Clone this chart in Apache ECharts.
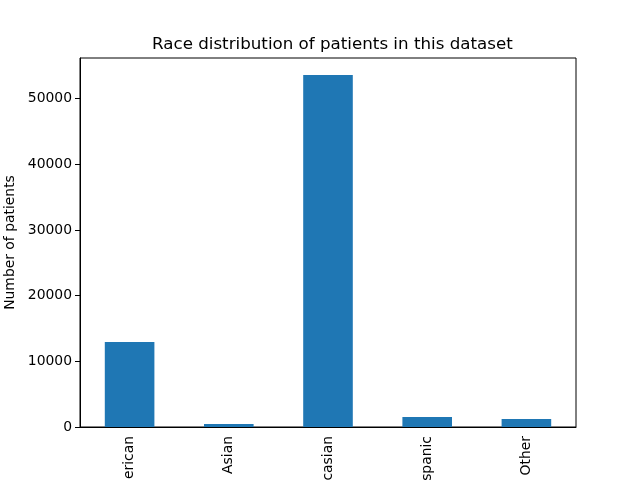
<!DOCTYPE html>
<html>
<head>
<meta charset="utf-8">
<script src="https://cdn.jsdelivr.net/npm/echarts@6/dist/echarts.min.js"></script>
<style>
  html, body, #main { width: 640px; height: 480px; margin: 0; background: #fff; }
</style>
</head>
<body>
<div id="main"></div>
<script>
// race categories and patient counts
var races = ['AfricanAmerican', 'Asian', 'Caucasian', 'Hispanic', 'Other'];
var patients = [12950, 460, 53600, 1520, 1220];
var yTicks = [0, 10000, 20000, 30000, 40000, 50000];

var font = 'DejaVu Sans';
var chart = echarts.init(document.getElementById('main'));

chart.setOption({
    animation: false,
    backgroundColor: '#fff',
    title: {
        text: 'Race distribution of patients in this dataset',
        left: 147,
        top: 31,
        textStyle: { fontFamily: font, fontSize: 16.7, fontWeight: 'normal', color: '#000' }
    },
    grid: {
        left: 80, right: 64, top: 58, bottom: 53,
        containLabel: false,
        outerBoundsMode: 'none',
        show: true, borderColor: '#000', borderWidth: 1, backgroundColor: 'transparent'
    },
    xAxis: {
        type: 'category',
        data: races,
        axisLine: { lineStyle: { color: '#000' } },
        axisTick: { alignWithLabel: true, length: 5, lineStyle: { color: '#000' } },
        axisLabel: { rotate: 90, interval: 0, margin: 9, fontFamily: font, fontSize: 13.9, color: '#000' }
    },
    yAxis: {
        type: 'value',
        min: 0,
        max: 56200,
        name: 'Number of patients',
        nameLocation: 'middle',
        nameGap: 52,
        nameTextStyle: { fontFamily: font, fontSize: 13.9, color: '#000' },
        axisLine: { show: true, lineStyle: { color: '#000' } },
        axisTick: { show: true, length: 5, customValues: yTicks, lineStyle: { color: '#000' } },
        splitLine: { show: false },
        axisLabel: {
            margin: 8, fontFamily: font, fontSize: 13.9, color: '#000',
            customValues: yTicks,
            formatter: function (v) { return String(v); }
        }
    },
    series: [{
        type: 'bar',
        data: patients,
        barWidth: '50%',
        itemStyle: { color: '#1f77b4' }
    }]
});
</script>
</body>
</html>
